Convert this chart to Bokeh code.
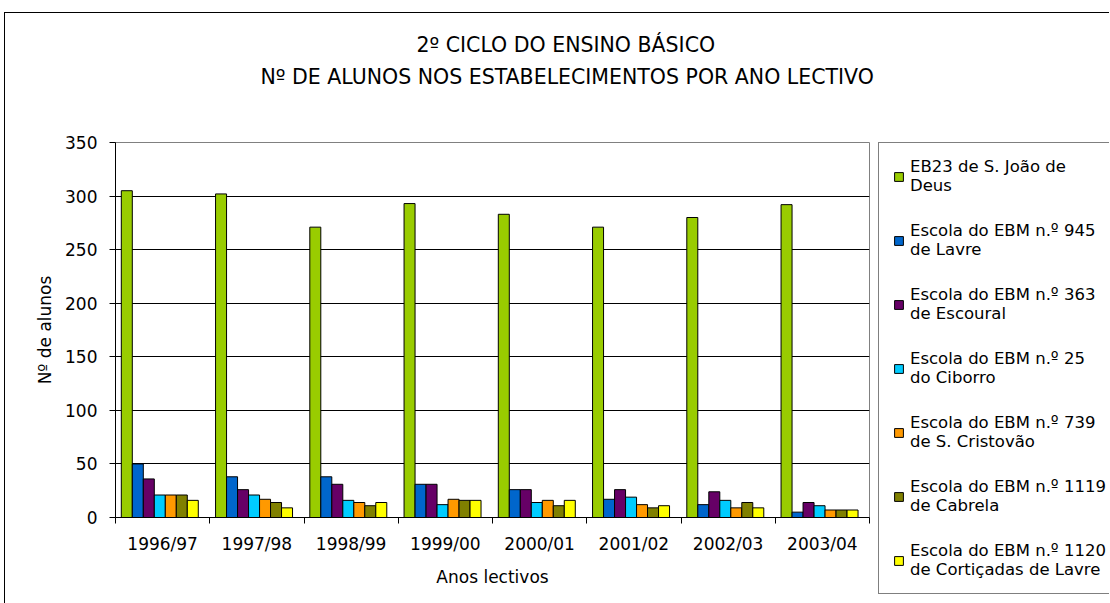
from bokeh.plotting import figure
from bokeh.models import (Legend, LegendItem, FixedTicker, Title, Range1d)
from bokeh.layouts import row
from bokeh.embed import file_html
from bokeh.resources import INLINE
import numpy as np

years = ["1996/97", "1997/98", "1998/99", "1999/00", "2000/01", "2001/02", "2002/03", "2003/04"]
schools = [
    "EB23 de S. João de\nDeus",
    "Escola do EBM n.º 945\nde Lavre",
    "Escola do EBM n.º 363\nde Escoural",
    "Escola do EBM n.º 25\ndo Ciborro",
    "Escola do EBM n.º 739\nde S. Cristovão",
    "Escola do EBM n.º 1119\nde Cabrela",
    "Escola do EBM n.º 1120\nde Cortiçadas de Lavre",
]
eb23 = [305, 302, 271, 293, 283, 271, 280, 292]
lavre = [50, 38, 38, 31, 26, 17, 12, 5]
escoural = [36, 26, 31, 31, 26, 26, 24, 14]
ciborro = [21, 21, 16, 12, 14, 19, 16, 11]
cristovao = [21, 17, 14, 17, 16, 12, 9, 7]
cabrela = [21, 14, 11, 16, 11, 9, 14, 7]
corticadas = [16, 9, 14, 16, 16, 11, 9, 7]
series = [eb23, lavre, escoural, ciborro, cristovao, cabrela, corticadas]
colors = ["#99CC00", "#0066CC", "#660066", "#00CCFF", "#FF9900", "#808000", "#FFFF00"]
y_ticks = [0, 50, 100, 150, 200, 250, 300, 350]
title_lines = ["2º CICLO DO ENSINO BÁSICO", "Nº DE ALUNOS NOS ESTABELECIMENTOS POR ANO LECTIVO"]

FONT = "DejaVu Sans"

p = figure(width=872, height=590, output_backend="svg", toolbar_location=None,
           x_range=Range1d(0, len(years)), y_range=Range1d(0, 350),
           min_border_left=110, min_border_right=8, min_border_top=129, min_border_bottom=86)
p.frame_align = False
p.outline_line_color = "#808080"
p.outline_line_width = 1
p.background_fill_color = "white"
p.border_fill_color = "white"
p.title.visible = False

centers = np.arange(len(years)) + 0.5
bw = 0.1167
for k, (vals, col) in enumerate(zip(series, colors)):
    xs = centers + (k - 3) * bw - 0.03
    p.vbar(x=xs, top=vals, width=bw, fill_color=col, line_color="black", line_width=1)

# axes
p.xaxis.ticker = FixedTicker(ticks=list(centers), minor_ticks=list(range(len(years) + 1)))
p.xaxis.major_label_overrides = {float(c): y for c, y in zip(centers, years)}
p.xaxis.major_tick_out = 6
p.xaxis.major_tick_in = 0
p.xaxis.minor_tick_out = 6
p.xaxis.minor_tick_in = 0
p.xaxis.major_label_standoff = 10
p.xaxis.axis_label = "Anos lectivos"
p.xaxis.axis_label_standoff = 10

p.yaxis.ticker = FixedTicker(ticks=y_ticks)
p.yaxis.major_tick_out = 6
p.yaxis.major_tick_in = 0
p.yaxis.major_label_standoff = 12
p.yaxis.axis_label = "Nº de alunos"
p.yaxis.axis_label_standoff = 7

for ax in (p.xaxis[0], p.yaxis[0]):
    ax.axis_line_color = "black"
    ax.major_label_text_font = FONT
    ax.major_label_text_font_size = "17px"
    ax.major_label_text_color = "black"
    ax.axis_label_text_font = FONT
    ax.axis_label_text_font_size = "17px"
    ax.axis_label_text_font_style = "normal"
    ax.axis_label_text_color = "black"
p.xaxis.major_tick_line_color = None
p.xaxis.minor_tick_line_color = "black"
p.yaxis.major_tick_line_color = "black"
p.yaxis.minor_tick_line_color = None

p.xgrid.grid_line_color = None
p.ygrid.ticker = FixedTicker(ticks=y_ticks[1:-1])
p.ygrid.grid_line_color = "black"
p.ygrid.grid_line_width = 1

# title: spacer, then line 2, then line 1 (stacked upward from the frame)
p.add_layout(Title(text="\u200b", text_font_size="10px", standoff=37), "above")
p.add_layout(Title(text=title_lines[1], text_font=FONT, text_font_size="20.5px", text_font_style="normal",
                   align="left", offset=145, vertical_align="middle", standoff=6, text_color="black"), "above")
p.add_layout(Title(text=title_lines[0], text_font=FONT, text_font_size="20.5px", text_font_style="normal",
                   align="left", offset=301, vertical_align="middle", standoff=6, text_color="black"), "above")

# legend panel (its own small figure to the right of the chart)
q = figure(width=232, height=590, output_backend="svg", toolbar_location=None,
           x_axis_type=None, y_axis_type=None,
           x_range=Range1d(-20, -19), y_range=Range1d(-20, -19),
           min_border_left=1, min_border_right=0, min_border_top=0, min_border_bottom=0)
q.frame_align = False
q.outline_line_color = None
q.background_fill_color = "white"
q.border_fill_color = "white"
q.title.visible = False
items = []
for vals, col, name in zip(series, colors, schools):
    r = q.vbar(x=centers, top=vals, width=bw, fill_color=col, line_color="black", line_width=1)
    items.append(LegendItem(label=name, renderers=[r]))
legend = Legend(items=items, location=(0, 9), orientation="vertical",
                label_text_font=FONT, label_text_font_size="16.5px", label_text_color="black",
                label_standoff=6, glyph_width=11, glyph_height=11, spacing=26, padding=14,
                border_line_color="black", border_line_width=1, background_fill_color="white",
                background_fill_alpha=1, margin=0)
q.add_layout(legend, "center")

layout = row(p, q, spacing=0)
layout.styles = {"margin-left": "4px", "margin-top": "12px",
                 "border-left": "1px solid #000000", "border-top": "1px solid #000000"}

open("out.html", "w").write(file_html(layout, INLINE))
